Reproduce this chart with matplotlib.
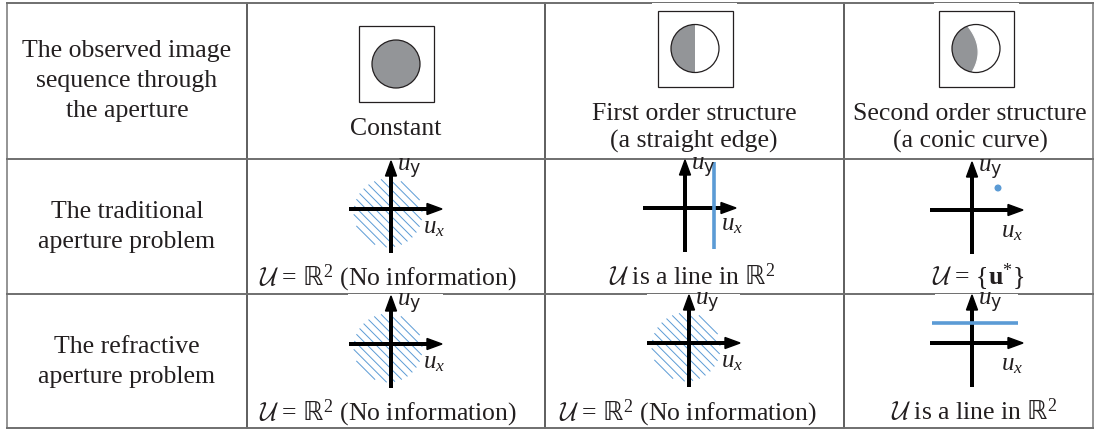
import numpy as np
import matplotlib
matplotlib.use("Agg")
import matplotlib.pyplot as plt
from matplotlib.patches import Circle, Wedge, Polygon, Rectangle

plt.rcParams['font.family'] = ['Liberation Serif', 'DejaVu Serif']
plt.rcParams['mathtext.fontset'] = 'custom'
plt.rcParams['mathtext.cal'] = 'cmsy10'
plt.rcParams['mathtext.rm'] = 'Liberation Serif'
plt.rcParams['mathtext.it'] = 'Liberation Serif:italic'
plt.rcParams['mathtext.bf'] = 'Liberation Serif:bold'
plt.rcParams['mathtext.sf'] = 'DejaVu Sans'

# table content
RR = r"$\mathsf{ℝ}^2$"
row_labels = [["The observed image", "sequence through", "the aperture"],
              ["The traditional", "aperture problem"],
              ["The refractive", "aperture problem"]]
structure_names = [["Constant"],
                   ["First order structure", "(a straight edge)"],
                   ["Second order structure", "(a conic curve)"]]
traditional_sets = [r"$\mathcal{U}$ = " + RR + " (No information)",
                    r"$\mathcal{U}$ is a line in " + RR,
                    r"$\mathcal{U}$ = {$\mathbf{u}^{*}$}"]
refractive_sets = [r"$\mathcal{U}$ = " + RR + " (No information)",
                   r"$\mathcal{U}$ = " + RR + " (No information)",
                   r"$\mathcal{U}$ is a line in " + RR]
# what the solution set looks like in velocity space
traditional_kind = ["plane", "vline", "point"]
refractive_kind = ["plane", "plane", "hline"]
# image patch shown through the aperture
patch_kind = ["full", "half", "conic"]

# layout (pixels)
col_x = [6.5, 247, 545, 844, 1093]
row_y = [4, 160, 295, 429]
TXT = '#231f20'
BLUE = '#5b9bd5'
GRAY = '#939598'
FS = 18.5

fig = plt.figure(figsize=(10.99, 4.31), dpi=100)
ax = fig.add_axes([0, 0, 1, 1])
ax.set_xlim(0, 1099)
ax.set_ylim(431, 0)
ax.axis('off')

# grid lines
for x in col_x:
    c = '#777777' if x in (col_x[0], col_x[-1]) else '#333333'
    ax.plot([x, x], [row_y[0], row_y[-1]], color=c, lw=1.1, zorder=1)
for y in row_y:
    ax.plot([col_x[0], col_x[-1]], [y, y], color='#6f6f6f', lw=1.4, zorder=1)

# small white gaps where the sketches' backgrounds cover the rules
for x0, x1, y in [(652, 737, row_y[0]), (934, 1019, row_y[0]),
                  (348, 443, row_y[2]), (647, 740, row_y[2]), (935, 1018, row_y[2])]:
    ax.add_patch(Rectangle((x0, y - 0.3), x1 - x0, 1.6, color='white', lw=0, zorder=2))


def put_lines(lines, xc, y0, step, fs=FS):
    for i, s in enumerate(lines):
        ax.text(xc, y0 + i * step, s, ha='center', va='baseline',
                fontsize=fs, color=TXT, zorder=5)


# first column
put_lines(row_labels[0], 127, 57, 30)
put_lines(row_labels[1], 127, 218, 30)
put_lines(row_labels[2], 127, 353, 30)

# row 1: image patches
box_centers = [(396, 65), (695, 49.5), (976, 49.5)]
R = 24
for kind, (cx, cy) in zip(patch_kind, box_centers):
    ax.add_patch(Rectangle((cx - 37.5, cy - 38), 75, 76, fill=False,
                           ec=TXT, lw=0.9, zorder=3))
    if kind == "full":
        ax.add_patch(Circle((cx, cy), R, fc=GRAY, ec=TXT, lw=0.9, zorder=3))
    elif kind == "half":
        ax.add_patch(Wedge((cx, cy), R, 90, 270, fc=GRAY, ec='none', zorder=3))
        ax.add_patch(Circle((cx, cy), R, fc='none', ec=TXT, lw=0.9, zorder=4))
    else:
        # curved edge through three points (relative to centre)
        py = np.array([-22.5, 1.0, 23.7])
        px = np.array([-8.3, 2.0, -4.0])
        coef = np.polyfit(py, px, 2)
        yy = np.linspace(py[0], py[-1], 60)
        xx = np.polyval(coef, yy)
        a0 = np.arctan2(py[-1], xx[-1])
        a1 = np.arctan2(py[0], xx[0]) + 2 * np.pi
        aa = np.linspace(a0, a1, 80)
        poly = np.vstack([np.column_stack([cx + xx, cy + yy]),
                          np.column_stack([cx + R * np.cos(aa), cy + R * np.sin(aa)])])
        ax.add_patch(Polygon(poly, closed=True, fc=GRAY, ec='none', zorder=3))
        ax.plot(cx + xx, cy + yy, color='white', lw=0.8, zorder=3.5)
        ax.add_patch(Circle((cx, cy), R, fc='none', ec=TXT, lw=0.9, zorder=4))

put_lines(structure_names[0], 396, 135, 28)
put_lines(structure_names[1], 694, 120, 28)
put_lines(structure_names[2], 970, 120, 28)


def draw_axes(ox, oy, uxo=(32, 18)):
    lw = 4 * 0.72
    hl, hw = 15, 11
    ax.plot([ox - 42, ox + 51 - hl + 1], [oy, oy], color='k', lw=lw,
            solid_capstyle='butt', zorder=6)
    ax.add_patch(Polygon([[ox + 51, oy], [ox + 51 - hl, oy - hw / 2],
                          [ox + 51 - hl, oy + hw / 2]], closed=True, color='k', zorder=6))
    ax.plot([ox, ox], [oy + 44, oy - 48 + hl - 1], color='k', lw=lw,
            solid_capstyle='butt', zorder=6)
    ax.add_patch(Polygon([[ox, oy - 48], [ox - hw / 2, oy - 48 + hl],
                          [ox + hw / 2, oy - 48 + hl]], closed=True, color='k', zorder=6))
    ax.text(ox + 6, oy - 41, r'$u_{\mathsf{y}}$', fontsize=18, color=TXT,
            ha='left', va='center', zorder=8)
    ax.text(ox + uxo[0], oy + uxo[1], r'$u_x$', fontsize=18, color=TXT,
            ha='left', va='center', zorder=8)


def draw_set(kind, ox, oy):
    if kind == "plane":
        cx, cy, rr = ox - 3, oy + 4, 34
        v = np.array([1, 1]) / np.sqrt(2)
        n = np.array([1, -1]) / np.sqrt(2)
        for d in np.arange(-31.5, 32, 6.3):
            t = np.sqrt(rr ** 2 - d ** 2)
            p0 = np.array([cx, cy]) + d * n - t * v
            p1 = np.array([cx, cy]) + d * n + t * v
            ax.plot([p0[0], p1[0]], [p0[1], p1[1]], color=BLUE, lw=0.7, zorder=5)
    elif kind == "vline":
        ax.plot([ox + 29, ox + 29], [oy - 46, oy + 41], color=BLUE, lw=2.6,
                solid_capstyle='butt', zorder=7)
    elif kind == "point":
        ax.add_patch(Circle((ox + 26, oy - 22), 2.8, color=BLUE, zorder=7))
    elif kind == "hline":
        ax.plot([ox - 40, ox + 46], [oy - 20, oy - 20], color=BLUE, lw=2.6,
                solid_capstyle='butt', zorder=7)


trad_origins = [(391, 210), (685, 209), (972, 211)]
refr_origins = [(391, 345), (689, 344), (972, 344)]
trad_ux = [(32, 18), (36, 16), (29, 21)]
refr_ux = [(32, 18), (32, 18), (29, 21)]

for kind, (ox, oy), uxo in zip(traditional_kind, trad_origins, trad_ux):
    draw_set(kind, ox, oy)
    draw_axes(ox, oy, uxo)
for kind, (ox, oy), uxo in zip(refractive_kind, refr_origins, refr_ux):
    draw_set(kind, ox, oy)
    draw_axes(ox, oy, uxo)

set_x = [388, 692, 978]
for s, xc in zip(traditional_sets, set_x):
    ax.text(xc, 285, s, ha='center', va='baseline', fontsize=FS, color=TXT, zorder=5)
for s, xc in zip(refractive_sets, [388, 688, 974]):
    ax.text(xc, 420, s, ha='center', va='baseline', fontsize=FS, color=TXT, zorder=5)

fig.savefig('out.png', dpi=100)
